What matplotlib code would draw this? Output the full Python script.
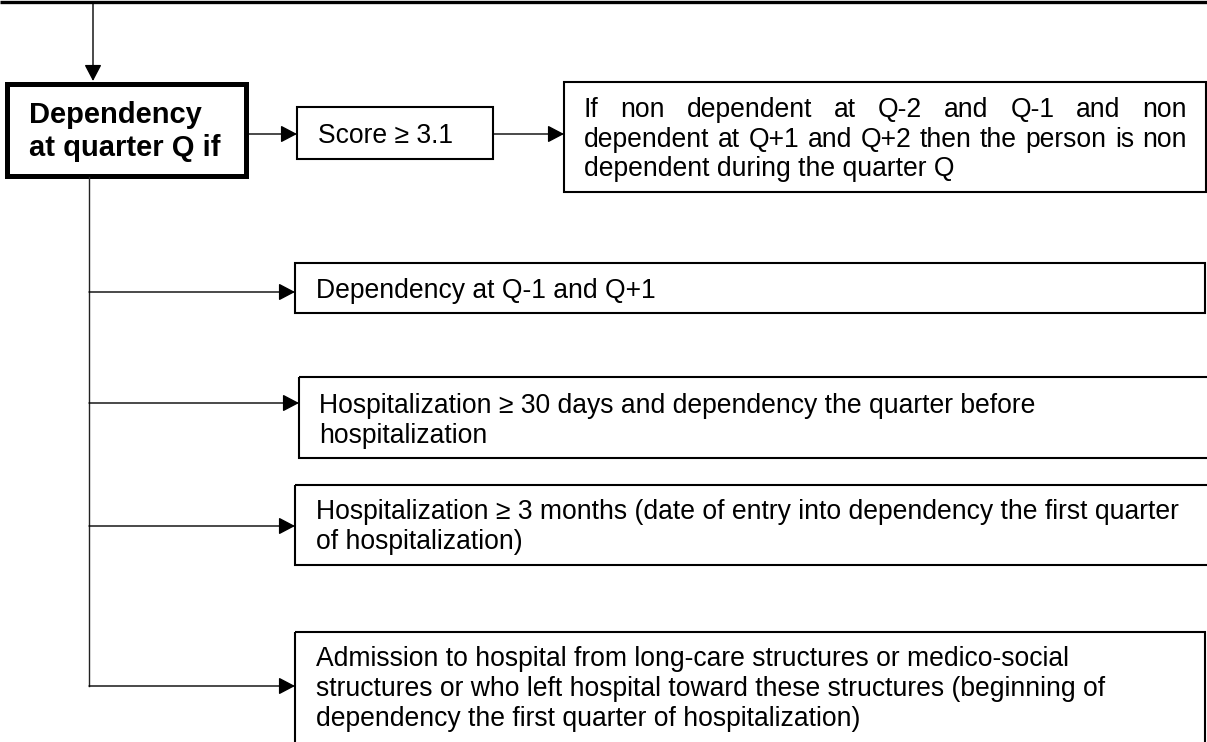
"""
Flowchart: definition of dependency at quarter Q
"""

import matplotlib
matplotlib.use('Agg')
import matplotlib.pyplot as plt
from matplotlib.patches import Rectangle

plt.rcParams['font.family'] = ['Liberation Sans', 'DejaVu Sans']

# ---- texts of the chart ----
main_lines = ["Dependency", "at quarter Q if"]
score_label = "Score \u2265 3.1"
rule_lines = [
    "If non dependent at Q-2 and Q-1 and non",
    "dependent at Q+1 and Q+2 then the person is non",
    "dependent during the quarter Q",
]
condition_lines = [
    ["Dependency at Q-1 and Q+1"],
    ["Hospitalization \u2265 30 days and dependency the quarter before",
     "hospitalization"],
    ["Hospitalization \u2265 3 months (date of entry into dependency the first quarter",
     "of hospitalization)"],
    ["Admission to hospital from long-care structures or medico-social",
     "structures or who left hospital toward these structures (beginning of",
     "dependency the first quarter of hospitalization)"],
]

# ---- layout (pixels, y pointing down) ----
W, H = 1207, 742
FS = 19.1       # regular text size
FS_BOLD = 21    # main box text size
LINE_GAP = 30

# condition boxes: left, top, right, bottom, branch y, text x, first baseline
cond_layout = [
    (295, 263, 1205, 313, 292, 316, 298),
    (299, 377, 1212, 458, 403, 319, 413),
    (295, 485, 1212, 565, 526, 316, 519),
    (295, 632, 1205, 748, 686, 316, 666),
]

fig = plt.figure(figsize=(W / 100, H / 100), dpi=100)
ax = fig.add_axes([0, 0, 1, 1])
ax.set_xlim(0, W)
ax.set_ylim(H, 0)
ax.axis('off')

line_col = '#222222'


def box(x0, y0, x1, y1, lw=1.5):
    ax.add_patch(Rectangle((x0, y0), x1 - x0, y1 - y0, fill=False,
                           edgecolor='black', lw=lw, joinstyle='miter'))


def arrow(x0, y0, x1, y1):
    ax.annotate('', xy=(x1, y1), xytext=(x0, y0),
                arrowprops=dict(arrowstyle='-|>,head_length=0.4,head_width=0.21',
                                mutation_scale=25, color='black', lw=1.0,
                                shrinkA=0, shrinkB=0))


def justify(words, x0, x1, y, fs):
    """Place words so the line fills x0..x1 exactly"""
    renderer = fig.canvas.get_renderer()
    texts = [ax.text(0, y, w, fontsize=fs, va='baseline', ha='left') for w in words]
    widths = []
    inv = ax.transData.inverted()
    for t in texts:
        bb = t.get_window_extent(renderer)
        p0 = inv.transform((bb.x0, bb.y0))
        p1 = inv.transform((bb.x1, bb.y0))
        widths.append(p1[0] - p0[0])
    gap = (x1 - x0 - sum(widths)) / (len(words) - 1)
    x = x0
    for t, w in zip(texts, widths):
        t.set_x(x)
        x += w + gap


# top line and incoming arrow
ax.plot([0, W], [1.5, 1.5], color='black', lw=2.4, solid_capstyle='butt')
arrow(93, 2, 93, 81)

# main box
box(6.5, 84, 245.5, 175.5, lw=3.6)
for i, line in enumerate(main_lines):
    ax.text(29, 123 + i * 33, line, fontsize=FS_BOLD, fontweight='bold',
            va='baseline', ha='left')

# score branch
arrow(247, 134, 297, 134)
box(297, 107, 493, 159)
ax.text(318, 143, score_label, fontsize=FS, va='baseline', ha='left')
arrow(493, 134, 564, 134)

# rule box
box(564, 82, 1206, 192)
rule_base = [117, 147, 176]
for i, line in enumerate(rule_lines):
    if i < len(rule_lines) - 1:
        justify(line.split(' '), 584, 1187, rule_base[i], FS)
    else:
        ax.text(584, rule_base[i], line, fontsize=FS, va='baseline', ha='left')

# trunk and condition boxes
branch_ys = [c[4] for c in cond_layout]
ax.plot([89, 89], [177, max(branch_ys)], color=line_col, lw=1.0)
for lines, (x0, y0, x1, y1, by, tx, ty) in zip(condition_lines, cond_layout):
    arrow(89, by, x0, by)
    box(x0, y0, x1, y1)
    for i, line in enumerate(lines):
        ax.text(tx, ty + i * LINE_GAP, line, fontsize=FS, va='baseline', ha='left')

fig.savefig('out.png', dpi=100)
